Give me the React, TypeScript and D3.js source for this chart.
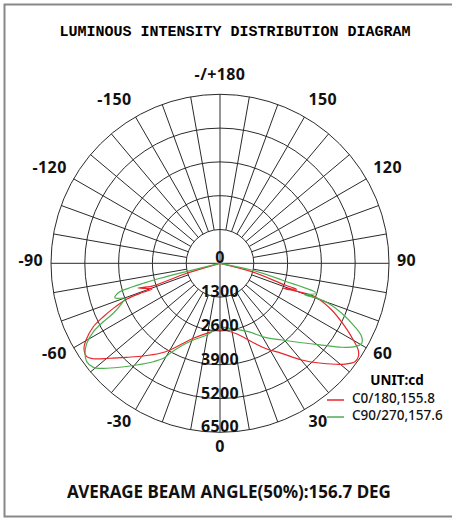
import React from 'react';
import * as d3 from 'd3';

// C0/180 plane (red): angle in degrees (0 = straight down, + to the right), value in cd
const c0Angles = [
  -90, -73.3, -71.5, -73.2, -69.3, -69.4, -69.0, -67.1, -65.4, -63.4, -60.2, -58, -55, -53, -49.2,
  -44.8, -39.6, -33.7, -30, -26.1, -19.6, -10.8, 0, 12.1, 22, 27.9, 34.4, 40.2, 45.5, 51.1, 53.9,
  56, 57.9, 60.1, 63.1, 67.3, 70.6, 70.1, 68.4, 71.3, 71.5, 75.2, 90,
];
const c0Values = [
  0, 1338, 2757, 3294, 2796, 3286, 3832, 4454, 4936, 5449, 5938, 6168, 6260, 6100, 5590,
  5094, 4627, 4160, 3849, 3499, 3062, 2741, 2565, 2753, 3253, 3699, 4196, 4869, 5485, 6173, 6424,
  6419, 6277, 5915, 5391, 4657, 3873, 3204, 2617, 3115, 2636, 1261, 0,
];

// C90/270 plane (green)
const c90Angles = [
  -90, -76, -75.4, -74.9, -73.8, -71.7, -69.7, -67.9, -64.9, -63.4, -61.6, -59, -56.3, -53.6, -50.6,
  -48, -43.9, -39.3, -34.1, -30.8, -29.05, -25.6, -19.2, -10.5, 0, 8.7, 22.5, 31.3, 38.8, 45.8,
  51.2, 55.4, 58.3, 60.5, 62.6, 64.8, 67.7, 69.7, 70.2, 69.6, 72.8, 74.9, 78, 90,
];
const c90Values = [
  0, 2379, 3049, 3505, 4086, 4253, 3896, 4067, 4532, 5019, 5538, 5979, 6240, 6372, 6304,
  6038, 5549, 5056, 4572, 4255, 3960, 3557, 3124, 2805, 2460, 2530, 2847, 3331, 3786, 4382,
  5018, 5687, 6103, 6259, 6137, 5736, 5060, 4440, 3873, 3489, 3894, 2458, 1246, 0,
];

const ringValues = [1300, 2600, 3900, 5200, 6500];
const radialLabels = [0, 1300, 2600, 3900, 5200, 6500];
const angleTicks = [-150, -120, -90, -60, -30, 0, 30, 60, 90, 120, 150, 180];
const angleTickLabels = ['-150', '-120', '-90', '-60', '-30', '0', '30', '60', '90', '120', '150', '-/+180'];
const seriesNames = ['C0/180,155.8', 'C90/270,157.6'];
const seriesColors = ['#e8252b', '#4cb050'];

const W = 452;
const H = 518;
const cx = 220;
const cy = 263.3;
const labelFont = '"Noto Sans", "Open Sans", sans-serif';

const App: React.FC = () => {
  const r = d3.scaleLinear().domain([0, 6500]).range([0, 169]);
  const toRad = (deg: number) => (deg * Math.PI) / 180;

  const line = d3
    .lineRadial<[number, number]>()
    .angle(d => Math.PI - toRad(d[0]))
    .radius(d => r(d[1]))
    .curve(d3.curveCatmullRom.alpha(0.5));

  const series = [
    d3.zip(c0Angles, c0Values) as [number, number][],
    d3.zip(c90Angles, c90Values) as [number, number][],
  ];

  const spokes = d3.range(0, 360, 10).filter(a => a % 90 !== 0);
  const pt = (deg: number, v: number) => [cx + r(v) * Math.sin(toRad(deg)), cy + r(v) * Math.cos(toRad(deg))];

  return (
    <div style={{ position: 'absolute', left: 0, top: 0 }}>
      <svg width={W} height={H} style={{ display: 'block', background: '#fff' }}>
        <rect x={4.5} y={4.5} width={460} height={512} fill="none" stroke="#888" strokeWidth={2} />

        <text x={235} y={32} textAnchor="middle" dominantBaseline="central"
          style={{ fontFamily: '"Liberation Mono", "Courier New", monospace', fontSize: 15, fontWeight: 'bold' }}>
          LUMINOUS INTENSITY DISTRIBUTION DIAGRAM
        </text>

        {/* grid */}
        <g stroke="#2a2a2a" strokeWidth={1} fill="none">
          {ringValues.map(v => (
            <circle key={v} cx={cx} cy={cy} r={r(v)} />
          ))}
          {spokes.map(a => {
            const [x1, y1] = pt(a, 1300);
            const [x2, y2] = pt(a, 6500);
            return <line key={a} x1={x1} y1={y1} x2={x2} y2={y2} />;
          })}
          <line x1={cx} y1={cy - r(6500)} x2={cx} y2={cy + r(6500)} />
          <line x1={cx - r(6500)} y1={cy} x2={cx + r(6500)} y2={cy} />
        </g>

        {/* curves */}
        <g transform={`translate(${cx},${cy})`} fill="none" strokeWidth={1.2}>
          {series.map((s, i) => (
            <path key={i} d={line(s) || ''} stroke={seriesColors[i]} />
          ))}
        </g>

        {/* radial value labels */}
        {radialLabels.map(v => (
          <text key={v} x={cx} y={cy + r(v) - 6} textAnchor="middle" dominantBaseline="central"
            style={{ fontFamily: labelFont, fontSize: 16, fontWeight: 'bold', letterSpacing: 0.3 }} fill="#111">
            {v}
          </text>
        ))}

        {/* angle labels */}
        {angleTicks.map((a, i) => {
          const s = Math.sin(toRad(a));
          const c = Math.cos(toRad(a));
          const anchor = Math.abs(s) < 0.01 ? 'middle' : s < 0 ? 'end' : 'start';
          return (
            <text key={a} x={cx + 177 * s} y={cy + 186 * c - 3} textAnchor={anchor} dominantBaseline="central"
              style={{ fontFamily: labelFont, fontSize: 16, fontWeight: 'bold', letterSpacing: 0.4 }} fill="#111">
              {angleTickLabels[i]}
            </text>
          );
        })}

        {/* legend */}
        <text x={397} y={380} textAnchor="middle" dominantBaseline="central"
          style={{ fontFamily: labelFont, fontSize: 13.5, fontWeight: 'bold' }}>
          UNIT:cd
        </text>
        {seriesNames.map((name, i) => (
          <g key={name}>
            <line x1={327} x2={344} y1={400 + i * 17} y2={400 + i * 17} stroke={seriesColors[i]} strokeWidth={1.5} />
            <text x={352} y={398 + i * 17} dominantBaseline="central"
              style={{ fontFamily: labelFont, fontSize: 13.5, fontWeight: 500 }} fill="#111">
              {name}
            </text>
          </g>
        ))}

        <text x={229} y={491} textAnchor="middle" dominantBaseline="central"
          style={{ fontFamily: labelFont, fontSize: 17, fontWeight: 'bold' }} fill="#111">
          AVERAGE BEAM ANGLE(50%):156.7 DEG
        </text>
      </svg>
    </div>
  );
};

export default App;
